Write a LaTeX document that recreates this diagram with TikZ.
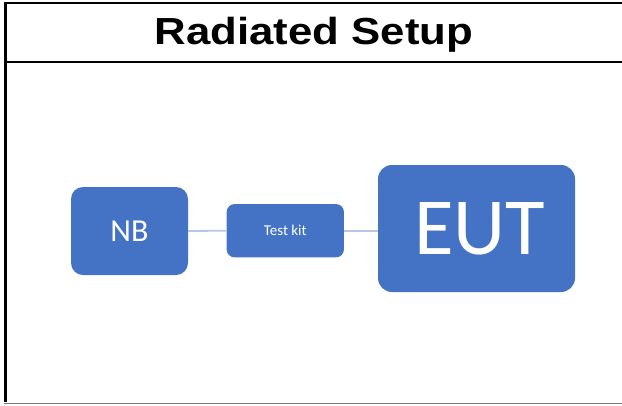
\documentclass[tikz,border=0pt]{standalone}
\usepackage{fontspec}
\usepackage{graphicx}
\setmainfont{Carlito}
\newfontfamily\arialfont{Liberation Sans}
\definecolor{boxblue}{RGB}{68,114,196}
\definecolor{linkblue}{RGB}{180,199,231}
\definecolor{framegray}{RGB}{120,120,120}
\tikzset{
  blockbox/.style={fill=boxblue, text=white, inner sep=0pt, rectangle},
  linkline/.style={draw=linkblue, line width=1.8pt},
  frameline/.style={draw=black, line width=2.5pt},
}
\begin{document}
\begin{tikzpicture}[x=1pt,y=-1pt]
\useasboundingbox (0,0) rectangle (622,405);
% frame
\draw[frameline] (5.3,402) -- (5.3,3) -- (622,3);
\draw[frameline] (5.3,62) -- (622,62);
\draw[draw=framegray, line width=1.5pt] (4,403.5) -- (622,403.5);
% title
\node[anchor=base, inner sep=0pt] (title) at (314,44)
  {\scalebox{1.16}[1]{\arialfont\bfseries\fontsize{37.7}{40}\selectfont Radiated Setup}};
% boxes
\node[blockbox, rounded corners=12pt, minimum width=117pt, minimum height=88pt,
  font=\fontsize{32}{34}\selectfont] (nb) at (129.5,231) {NB};
\node[blockbox, rounded corners=8pt, minimum width=117.3pt, minimum height=53.3pt,
  font=\fontsize{15}{17}\selectfont] (kit) at (285.3,230.7) {Test kit};
\node[blockbox, rounded corners=14pt, minimum width=197pt, minimum height=127pt,
  font=\fontsize{81}{84}\selectfont] (eut) at (476.5,228.5) {\hspace*{6pt}\raisebox{-3pt}{EUT}};
% connectors
\draw[linkline] (nb.east) -- (kit.west);
\draw[linkline] (kit.east) -- (kit.east -| eut.west);
\end{tikzpicture}
\end{document}
